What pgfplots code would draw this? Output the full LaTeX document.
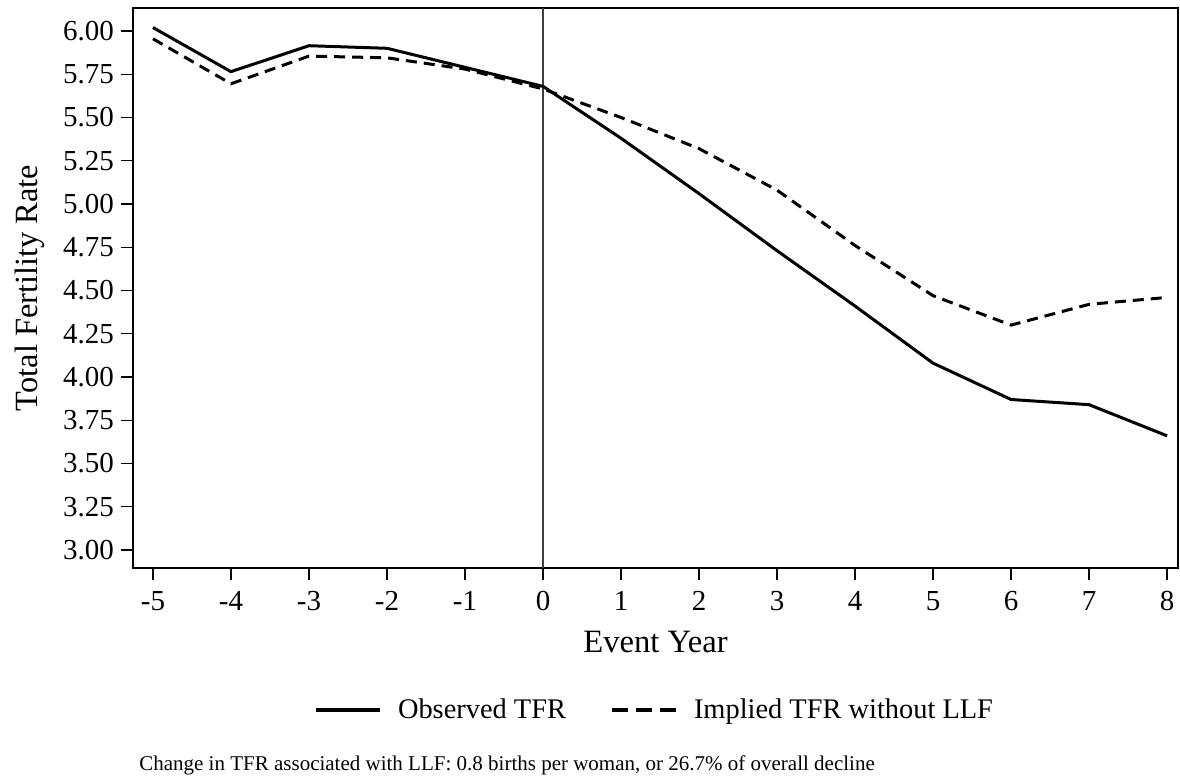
\documentclass[border=0pt]{standalone}
\usepackage{fontspec}
\setmainfont{Liberation Serif}
\usepackage{pgfplots}
\pgfplotsset{compat=1.18}
\begin{document}
\begin{tikzpicture}
\useasboundingbox (-66.5pt,-104.5pt) rectangle (523.5pt,284pt);
\begin{axis}[
  at={(0,0)}, anchor=south west,
  scale only axis,
  width=522.5pt, height=280pt,
  xmin=-5.256, xmax=8.14,
  ymin=2.896, ymax=6.133,
  axis line style={line width=0.9pt},
  tick style={black, line width=0.6pt},
  tick align=outside,
  major tick length=6pt,
  xtick={-5,-4,-3,-2,-1,0,1,2,3,4,5,6,7,8},
  xticklabels={-5,-4,-3,-2,-1,0,1,2,3,4,5,6,7,8},
  ytick={3,3.25,3.5,3.75,4,4.25,4.5,4.75,5,5.25,5.5,5.75,6},
  yticklabels={3.00,3.25,3.50,3.75,4.00,4.25,4.50,4.75,5.00,5.25,5.50,5.75,6.00},
  x tick label style={font=\fontsize{14.5}{16}\selectfont, yshift=-2pt},
  y tick label style={font=\fontsize{14.5}{16}\selectfont},
  xtick pos=bottom, ytick pos=left,
  xlabel={Event Year},
  ylabel={Total Fertility Rate},
  xlabel style={font=\fontsize{16.3}{18}\selectfont, at={(axis description cs:0.5,-0.132)}, anchor=center},
  ylabel style={font=\fontsize{16.2}{18}\selectfont, at={(axis description cs:-0.0985,0.5)}, anchor=center},
  legend columns=2,
  legend style={draw=none, at={(axis description cs:0.5,-0.2536)}, anchor=center,
    font=\fontsize{14.2}{16}\selectfont,
    /tikz/every odd column/.append style={column sep=6pt},
    /tikz/every even column/.append style={column sep=20pt}},
  legend image code/.code={\draw[#1, line width=2pt] (0pt,0pt) -- (32pt,0pt);},
  clip=false,
]
\draw[line width=1pt, black!75] (axis cs:0,2.896) -- (axis cs:0,6.133);
\addplot[black, line width=1.5pt] coordinates {
(-5,6.02) (-4,5.765) (-3,5.915) (-2,5.90) (-1,5.79) (0,5.68) (1,5.38) (2,5.06) (3,4.73) (4,4.41) (5,4.08) (6,3.87) (7,3.84) (8,3.66)};
\addlegendentry{Observed TFR}
\addplot[black, line width=1.5pt, dash pattern=on 5.5pt off 3.5pt, forget plot] coordinates {
(-5,5.955) (-4,5.695) (-3,5.855) (-2,5.845) (-1,5.78) (0,5.665) (1,5.50) (2,5.32) (3,5.08) (4,4.76) (5,4.47) (6,4.30) (7,4.42) (8,4.46)};
\addlegendimage{black, line width=2pt, dash pattern=on 8pt off 4pt}
\addlegendentry{Implied TFR without LLF}
\node[anchor=west, font=\fontsize{10.5}{12}\selectfont, inner sep=0pt] at (axis description cs:0.0057,-0.352) {Change in TFR associated with LLF: 0.8 births per woman, or 26.7\% of overall decline};
\end{axis}
\end{tikzpicture}
\end{document}
